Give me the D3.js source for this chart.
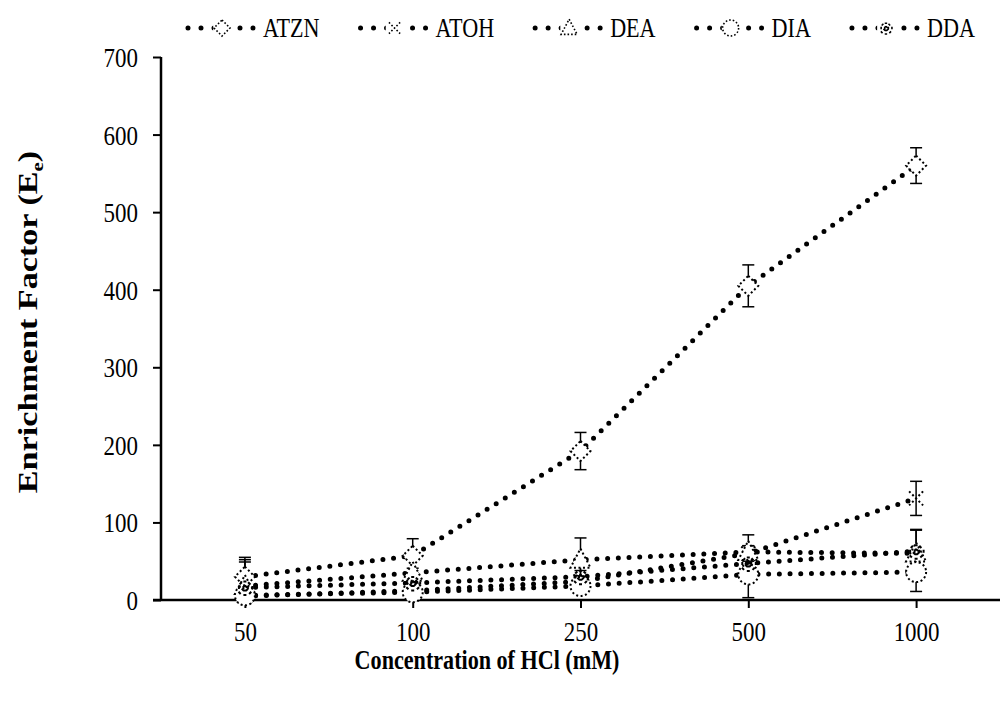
<!DOCTYPE html>
<html>
<head>
<meta charset="utf-8">
<script src="https://cdn.jsdelivr.net/npm/d3@7"></script>
<style>
  body { margin: 0; background: #fff; }
  text { font-family: "Liberation Serif", "Times New Roman", serif; fill: #000; }
</style>
</head>
<body>
<script>
var width = 1000, height = 702;

// categories (HCl, mM)
var categories = ["50", "100", "250", "500", "1000"];
var yTicks = [0, 100, 200, 300, 400, 500, 600, 700];

// series values
var atzn = [30, 57, 192, 405, 560];
var atznErr = [25, 22, 24, 27, 23];
var atoh = [5, 12, 24, 60, 131];
var atohErr = [3, 4, 5, 10, 22];
var dea = [18, 35, 52, 62, 60];
var deaErr = [34, 6, 28, 22, 30];
var dda = [16, 22, 30, 47, 63];
var ddaErr = [33, 5, 8, 23, 28];
var dia = [6, 10, 18, 33, 36];
var diaErr = [4, 5, 6, 30, 25];

var series = [
  {name: "ATZN", values: atzn, err: atznErr, shape: "diamond"},
  {name: "ATOH", values: atoh, err: atohErr, shape: "times"},
  {name: "DEA", values: dea, err: deaErr, shape: "triangle"},
  {name: "DIA", values: dia, err: diaErr, shape: "circle"},
  {name: "DDA", values: dda, err: ddaErr, shape: "star"}
];

// the original text looks horizontally condensed
var squeeze = 0.82;

var svg = d3.select("body").append("svg")
  .attr("width", width)
  .attr("height", height);

var plotLeft = 161, plotRight = 1000, plotTop = 57, plotBottom = 600;

var x = d3.scalePoint().domain(categories).range([plotLeft, plotRight]).padding(0.5);
var y = d3.scaleLinear().domain([0, 700]).range([plotBottom, plotTop]);

// axes
var yAxis = svg.append("g")
  .attr("transform", "translate(" + plotLeft + ",0)")
  .call(d3.axisLeft(y).tickValues(yTicks).tickSize(8));
var xAxis = svg.append("g")
  .attr("transform", "translate(0," + plotBottom + ")")
  .call(d3.axisBottom(x).tickSize(8));

[yAxis, xAxis].forEach(function(g) {
  g.select(".domain").remove();
  g.selectAll(".tick line").attr("stroke", "#000").attr("stroke-width", 2);
  g.selectAll(".tick text").style("font-size", "28px")
    .attr("transform", "scale(" + squeeze + ",1)");
});
yAxis.selectAll(".tick text").attr("x", -23 / squeeze).attr("dy", "0.34em");
xAxis.selectAll(".tick text").attr("y", 31).attr("dy", "0.34em");

svg.append("line").attr("x1", plotLeft).attr("x2", plotLeft).attr("y1", plotTop).attr("y2", plotBottom)
  .attr("stroke", "#000").attr("stroke-width", 2.5);
svg.append("line").attr("x1", plotLeft - 8).attr("x2", plotRight).attr("y1", plotBottom).attr("y2", plotBottom)
  .attr("stroke", "#000").attr("stroke-width", 2.5);

// marker shapes
function markerPath(shape, r) {
  if (shape == "diamond") {
    return "M0," + (-r) + "L" + r + ",0L0," + r + "L" + (-r) + ",0Z";
  }
  if (shape == "triangle") {
    return "M0," + (-r * 1.1) + "L" + r + "," + (r * 0.8) + "L" + (-r) + "," + (r * 0.8) + "Z";
  }
  if (shape == "circle") {
    return d3.symbol(d3.symbolCircle, Math.PI * r * r)();
  }
  if (shape == "times") {
    var a = r * 0.7;
    return "M" + (-a) + "," + (-a) + "L" + a + "," + a + "M" + a + "," + (-a) + "L" + (-a) + "," + a;
  }
  // star
  var s = r * 0.85, p = "";
  for (var i = 0; i < 4; i++) {
    var ang = i * Math.PI / 4;
    p += "M" + (Math.cos(ang) * s) + "," + (Math.sin(ang) * s) + "L" + (-Math.cos(ang) * s) + "," + (-Math.sin(ang) * s);
  }
  return p;
}

function drawMarker(g, shape) {
  if (shape == "times" || shape == "star") {
    g.append("path").attr("d", markerPath(shape, 10))
      .attr("fill", "none").attr("stroke", "#000")
      .attr("stroke-width", shape == "star" ? 3 : 2)
      .attr("stroke-dasharray", "2 2.5");
  } else {
    g.append("path").attr("d", markerPath(shape, 10))
      .attr("fill", "#fff").attr("stroke", "#000")
      .attr("stroke-width", 2).attr("stroke-dasharray", "2 2.5");
  }
}

var line = d3.line()
  .x(function(d, i) { return x(categories[i]); })
  .y(function(d) { return y(d); });

// dotted lines
svg.append("g").selectAll("path")
  .data(series)
  .enter().append("path")
  .attr("d", function(d) { return line(d.values); })
  .attr("fill", "none")
  .attr("stroke", "#000")
  .attr("stroke-width", 5)
  .attr("stroke-linecap", "round")
  .attr("stroke-dasharray", "0 10.7");

// error bars
series.forEach(function(s) {
  var g = svg.append("g");
  s.values.forEach(function(v, i) {
    var cx = x(categories[i]);
    var lo = Math.max(v - s.err[i], 0), hi = v + s.err[i];
    g.append("line").attr("x1", cx).attr("x2", cx).attr("y1", y(lo)).attr("y2", y(hi))
      .attr("stroke", "#000").attr("stroke-width", 1.5);
    [lo, hi].forEach(function(e) {
      g.append("line").attr("x1", cx - 6).attr("x2", cx + 6).attr("y1", y(e)).attr("y2", y(e))
        .attr("stroke", "#000").attr("stroke-width", 1.5);
    });
  });
});

// markers
series.forEach(function(s) {
  s.values.forEach(function(v, i) {
    var g = svg.append("g").attr("transform", "translate(" + x(categories[i]) + "," + y(v) + ")");
    drawMarker(g, s.shape);
  });
});

// axis titles
svg.append("text")
  .attr("transform", "translate(487,669) scale(" + squeeze + ",1)")
  .attr("text-anchor", "middle")
  .style("font-size", "27px").style("font-weight", "bold")
  .text("Concentration of HCl (mM)");

var yt = svg.append("text")
  .attr("transform", "translate(37,322) rotate(-90) scale(" + (1 / squeeze) + ",1)")
  .attr("text-anchor", "middle")
  .style("font-size", "28px").style("font-weight", "bold");
yt.append("tspan").text("Enrichment Factor (E");
yt.append("tspan").attr("dy", 6).style("font-size", "17px").text("e");
yt.append("tspan").attr("dy", -6).text(")");

// legend
var legend = svg.append("g");
var lx = 185;
series.forEach(function(s) {
  var g = legend.append("g").attr("transform", "translate(" + lx + ",28)");
  g.append("line").attr("x1", 3).attr("x2", 72).attr("y1", 0).attr("y2", 0)
    .attr("stroke", "#000").attr("stroke-width", 5)
    .attr("stroke-linecap", "round").attr("stroke-dasharray", "0 13");
  var m = g.append("g").attr("transform", "translate(37,0) scale(0.8)");
  m.append("rect").attr("x", -11).attr("y", -11).attr("width", 22).attr("height", 22).attr("fill", "#fff");
  drawMarker(m, s.shape);
  var t = g.append("text").attr("transform", "translate(78,9) scale(" + squeeze + ",1)")
    .style("font-size", "27px").text(s.name);
  lx += 78 + t.node().getComputedTextLength() * squeeze + 38;
});
</script>
</body>
</html>
